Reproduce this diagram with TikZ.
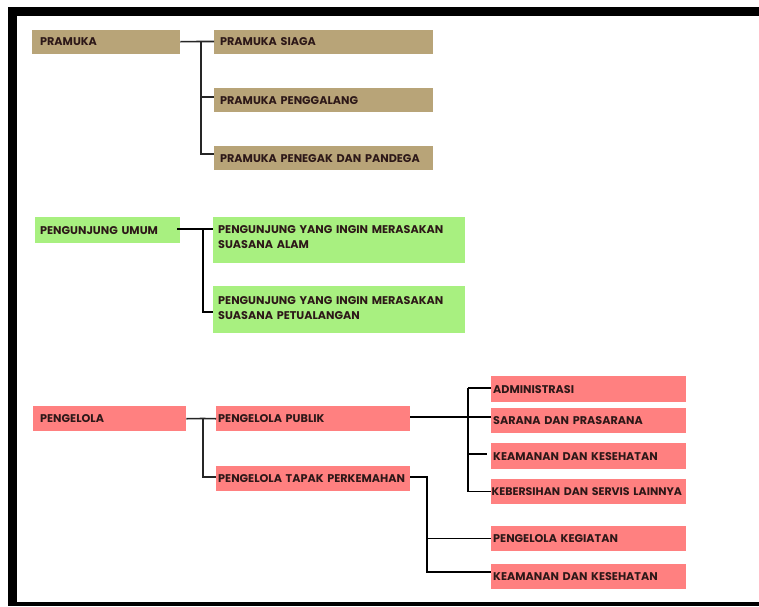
\documentclass[tikz,border=0pt]{standalone}
\usepackage{fontspec}
\setmainfont{Poppins}[BoldFont={* Bold}]
\definecolor{tanC}{RGB}{184,164,120}
\definecolor{greenC}{RGB}{168,240,128}
\definecolor{redC}{RGB}{255,128,128}
\definecolor{txtC}{RGB}{45,24,24}
\begin{document}
\begin{tikzpicture}[x=1pt,y=-1pt,
  box/.style={anchor=north west, inner xsep=6pt, inner ysep=0pt, align=left, text=txtC,
     font=\bfseries\fontsize{11.2}{15.5}\selectfont, minimum height=#1},
  tanbox/.style={box=24pt, fill=tanC},
  redbox/.style={box=25pt, fill=redC},
  greenbox/.style={box=26pt, fill=greenC},
  conn/.style={draw=black!85, line width=1.6pt},
  thinconn/.style={draw=black, line width=1.4pt},
  thickconn/.style={draw=black, line width=2.8pt}]
\useasboundingbox (0,0) rectangle (759,606);
\fill[white] (0,0) rectangle (759,606);
% frame
\fill[black] (8,7) rectangle (759,16);
\fill[black] (8,7) rectangle (17,606);
\fill[black] (8,602) rectangle (759,606);

% PRAMUKA
\node[tanbox, text width=132pt, inner xsep=8pt] (pr) at (32,29.5) {PRAMUKA};
\node[tanbox, text width=207pt] (ps) at (214,29.5) {PRAMUKA SIAGA};
\node[tanbox, text width=207pt] (pg) at (214,88) {PRAMUKA PENGGALANG};
\node[tanbox, text width=207pt] (pp) at (214,146) {PRAMUKA PENEGAK DAN PANDEGA};
\coordinate (pj) at (201,41.5);
\coordinate (pj2) at (201,97);
\coordinate (pj3) at (201,154);
\draw[conn] (pr.east) -- (pj) -- (pj -| ps.west);
\draw[conn] (pj) -- (pj3) -- (pj3 -| pp.west);
\draw[conn] (pj2) -- (pj2 -| pg.west);

% PENGUNJUNG
\node[greenbox, text width=135pt, inner xsep=5pt] (gu) at (35,217) {PENGUNJUNG UMUM};
\node[greenbox, minimum height=46pt, text width=242pt, inner xsep=5pt, text depth=22pt] (g1) at (213,217)
  {PENGUNJUNG YANG INGIN MERASAKAN\\SUASANA ALAM};
\node[greenbox, minimum height=47pt, text width=242pt, inner xsep=5pt, text depth=19pt] (g2) at (213,286)
  {PENGUNJUNG YANG INGIN MERASAKAN\\SUASANA PETUALANGAN};
\coordinate (gs) at (177,229);
\coordinate (gj) at (203,229);
\coordinate (gb) at (203,312);
\draw[thickconn] (gs) -- (gj) -- (gj -| g1.west);
\draw[thickconn] (gj) -- (gb) -- (gb -| g2.west);

% PENGELOLA
\node[redbox, text width=139pt, inner xsep=7pt] (pe) at (33,406) {PENGELOLA};
\node[redbox, text width=190pt, inner xsep=2pt] (pu) at (216,406) {PENGELOLA PUBLIK};
\node[redbox, text width=190pt, inner xsep=2pt] (pt) at (216,466) {PENGELOLA TAPAK PERKEMAHAN};
\coordinate (ej) at (203,418.5);
\coordinate (eb) at (203,477);
\draw[conn] (pe.east) -- (ej) -- (pu.west);
\draw[conn] (ej) -- (eb) -- (eb -| pt.west);

\node[box=26pt, fill=redC, text width=191pt, inner xsep=2pt] (ad) at (491,376) {ADMINISTRASI};
\node[redbox, text width=191pt, inner xsep=2pt] (sa) at (491,408) {SARANA DAN PRASARANA};
\node[box=26pt, fill=redC, text width=191pt, inner xsep=2pt] (ke) at (491,443) {KEAMANAN DAN KESEHATAN};
\node[redbox, text width=194pt, inner xsep=0.5pt, font=\bfseries\fontsize{11}{15.5}\selectfont] (kb) at (491,479) {\mbox{KEBERSIHAN DAN SERVIS LAINNYA}};
\node[redbox, text width=191pt, inner xsep=2pt] (kg) at (491,526) {PENGELOLA KEGIATAN};
\node[redbox, text width=191pt, inner xsep=2pt] (k2) at (491,564) {KEAMANAN DAN KESEHATAN};

\coordinate (us) at (410,417);
\coordinate (uj) at (468,417);
\coordinate (ut) at (468,388);
\coordinate (um) at (468,454);
\coordinate (ub) at (468,491.5);
\draw[thinconn] (us) -- (uj) -- (uj -| sa.west);
\draw[thinconn] (ut) -- (ub);
\draw[thinconn] (ut) -- (ut -| ad.west);
\draw[thinconn] (ub) -- (ub -| kb.west);
\draw[thinconn] (um) -- ([xshift=-4pt]um -| ke.west);

\coordinate (ts) at (410,477);
\coordinate (tj) at (427,477);
\coordinate (tm) at (427,538.5);
\coordinate (tb) at (427,572);
\draw[thinconn] (ts) -- (tj) -- (tb) -- (tb -| k2.west);
\draw[thinconn] (tm) -- (tm -| kg.west);
\end{tikzpicture}
\end{document}
